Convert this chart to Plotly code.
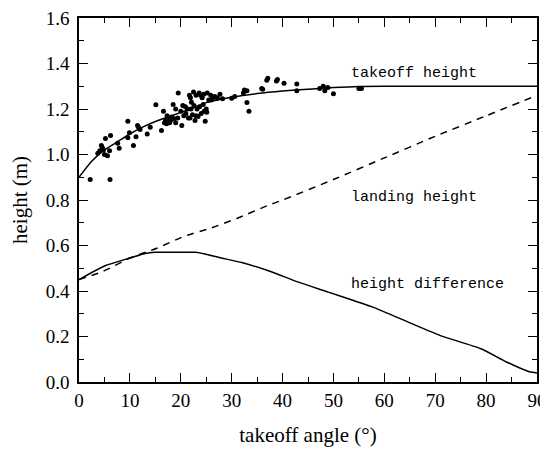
import plotly.graph_objects as go

# measured points (takeoff angle in degrees, takeoff height in m)
pts_angle = [2.2, 6.1, 3.7, 4.1, 4.6, 4.8, 5.2, 5.6, 6.0, 6.2, 7.6, 7.9, 9.6, 9.6, 9.9,
             10.7, 11.2, 11.5, 11.7, 13.4, 15.1, 16.2, 16.6, 16.8, 17.0, 17.2, 17.6, 18.0,
             18.7, 18.5, 19.5, 20.2, 20.6, 21.0, 20.9, 21.7, 21.9, 22.1, 22.3, 23.0, 23.4,
             23.6, 23.9, 24.2, 24.6, 24.8, 25.1, 25.5, 25.9, 26.3, 27.2, 27.7, 28.2, 30.0,
             30.6, 32.3, 32.5, 33.0, 33.0, 33.4, 35.9, 36.1, 36.9, 37.1, 38.8, 39.0, 40.3,
             42.8, 42.8, 47.3, 48.0, 48.3, 48.9, 50.0, 55.0, 55.5,
             17.3, 17.8, 18.2, 19.0, 19.4, 20.0, 21.3, 21.5, 22.0, 22.6, 23.2, 23.7, 24.0,
             24.4, 25.0, 22.5, 23.0, 24.5, 25.2, 26.0, 26.7, 19.0, 20.4, 21.8, 22.8, 4.4,
             5.0, 12.0, 14.0]
pts_height = [0.89, 0.89, 1.006, 1.016, 1.03, 1.02, 1.07, 0.995, 1.016, 1.084, 1.05, 1.027,
              1.146, 1.074, 1.096, 1.04, 1.078, 1.127, 1.12, 1.09, 1.219, 1.106, 1.19, 1.14,
              1.15, 1.135, 1.16, 1.15, 1.157, 1.22, 1.27, 1.127, 1.17, 1.18, 1.21, 1.26, 1.25,
              1.23, 1.175, 1.17, 1.167, 1.27, 1.26, 1.25, 1.19, 1.146, 1.186, 1.24, 1.26, 1.25,
              1.248, 1.265, 1.245, 1.247, 1.255, 1.27, 1.284, 1.28, 1.229, 1.19, 1.29, 1.287,
              1.326, 1.335, 1.323, 1.33, 1.313, 1.28, 1.31, 1.29, 1.30, 1.28, 1.295, 1.267,
              1.29, 1.29,
              1.17, 1.14, 1.165, 1.14, 1.16, 1.19, 1.20, 1.16, 1.20, 1.215, 1.20, 1.21, 1.18,
              1.22, 1.20, 1.275, 1.26, 1.265, 1.27, 1.24, 1.255, 1.20, 1.215, 1.16, 1.15, 1.04,
              1.00, 1.11, 1.12]

takeoff_angle = [0, 2.5, 5, 7.5, 10, 12.5, 15, 17.5, 20, 22.5, 25, 30, 35, 40, 45, 50, 55, 60, 70, 80, 90]
takeoff_height = [0.90, 0.97, 1.02, 1.055, 1.09, 1.12, 1.145, 1.165, 1.185, 1.205, 1.228, 1.252,
                  1.268, 1.279, 1.287, 1.294, 1.299, 1.30, 1.30, 1.30, 1.30]

landing_angle = [0, 4.8, 10, 15.3, 20.5, 25.7, 31, 36.9, 40, 50, 60, 70, 80, 90]
landing_height = [0.45, 0.487, 0.545, 0.588, 0.639, 0.675, 0.719, 0.774, 0.80, 0.89, 0.985,
                  1.08, 1.17, 1.26]

diff_angle = [0, 5, 10, 13, 15, 20, 23, 28, 32, 37.5, 43, 49, 58, 65, 71, 79, 84, 88.5, 90]
diff_height = [0.45, 0.51, 0.545, 0.565, 0.57, 0.57, 0.57, 0.545, 0.525, 0.487, 0.44, 0.395,
               0.327, 0.26, 0.204, 0.146, 0.088, 0.045, 0.04]

labels = ["takeoff height", "landing height", "height difference"]
label_x = [53, 53, 53]
label_y = [1.357, 0.81, 0.43]

fig = go.Figure()
fig.add_trace(go.Scatter(x=takeoff_angle, y=takeoff_height, mode="lines",
                         line=dict(color="black", width=1.5, shape="spline", smoothing=0.6),
                         showlegend=False))
fig.add_trace(go.Scatter(x=landing_angle, y=landing_height, mode="lines",
                         line=dict(color="black", width=1.5, dash="7px,6px", shape="spline", smoothing=0.6),
                         showlegend=False))
fig.add_trace(go.Scatter(x=diff_angle, y=diff_height, mode="lines",
                         line=dict(color="black", width=1.5, shape="spline", smoothing=0.6),
                         showlegend=False))
fig.add_trace(go.Scatter(x=pts_angle, y=pts_height, mode="markers",
                         marker=dict(color="black", size=5), showlegend=False))

for t, x, y in zip(labels, label_x, label_y):
    fig.add_annotation(x=x, y=y, text=t, showarrow=False, xanchor="left", yanchor="middle",
                       font=dict(family="Liberation Mono", size=15, color="black"))

axis_common = dict(showline=True, linecolor="black", linewidth=1.5, mirror="allticks",
                   ticks="inside", ticklen=9, tickwidth=1.2, tickcolor="black",
                   showgrid=False, zeroline=False, automargin=False,
                   ticklabeloverflow="allow",
                   tickfont=dict(family="Liberation Serif", size=19, color="black"),
                   title_font=dict(family="Liberation Serif", size=21, color="black"))

fig.update_xaxes(range=[0, 90], dtick=10, tick0=0,
                 minor=dict(ticks="inside", ticklen=5, dtick=5, tickcolor="black", tickwidth=1.2),
                 title_text="takeoff angle (°)", title_standoff=18, **axis_common)
fig.update_yaxes(range=[0, 1.6], dtick=0.2, tick0=0, tickformat=".1f", ticklabelstandoff=4,
                 minor=dict(ticks="inside", ticklen=5, dtick=0.1, tickcolor="black", tickwidth=1.2),
                 title_text="height (m)", title_standoff=12, **axis_common)

fig.update_layout(width=548, height=449, margin=dict(l=71, r=19, t=10, b=75),
                  plot_bgcolor="white", paper_bgcolor="white")

fig.write_html("out.html")
